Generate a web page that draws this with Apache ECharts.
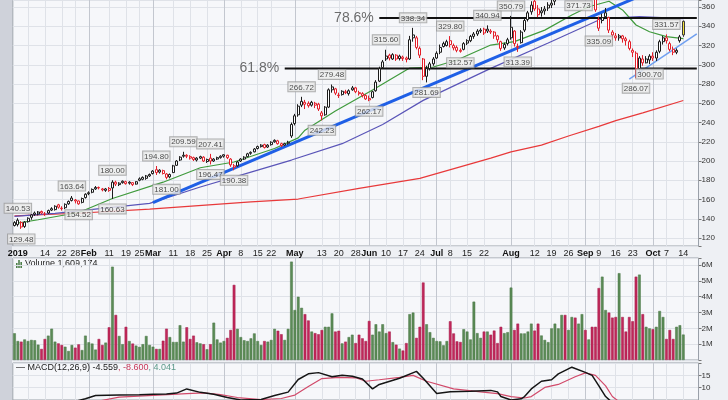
<!DOCTYPE html>
<html><head><meta charset="utf-8">
<script src="https://cdn.jsdelivr.net/npm/echarts@6/dist/echarts.min.js"></script>
<style>html,body{margin:0;padding:0;background:#eef0f4;}#chart{width:728px;height:400px;}</style>
</head><body><div id="chart"></div><script>
// ---------- DATA ----------
const tradingDays = [
 ['12',[31]],
 ['1',[2,3,4,7,8,9,10,11,14,15,16,17,18,22,23,24,25,28,29,30,31]],
 ['2',[1,4,5,6,7,8,11,12,13,14,15,19,20,21,22,25,26,27,28]],
 ['3',[1,4,5,6,7,8,11,12,13,14,15,18,19,20,21,22,25,26,27,28,29]],
 ['4',[1,2,3,4,5,8,9,10,11,12,15,16,17,18,22,23,24,25,26,29,30]],
 ['5',[1,2,3,6,7,8,9,10,13,14,15,16,17,20,21,22,23,24,28,29,30,31]],
 ['6',[3,4,5,6,7,10,11,12,13,14,17,18,19,20,21,24,25,26,27,28]],
 ['7',[1,2,3,5,8,9,10,11,12,15,16,17,18,19,22,23,24,25,26,29,30,31]],
 ['8',[1,2,5,6,7,8,9,12,13,14,15,16,19,20,21,22,23,26,27,28,29,30]],
 ['9',[3,4,5,6,9,10,11,12,13,16,17,18,19,20,23,24,25,26,27,30]],
 ['10',[1,2,3,4,7,8,9,10,11,14,15,16,17,18]]
];
const open = [133,
134,136,132,137,141.5,144.5,145,147.5,145,146,
149,149.5,154.5,151,151.5,155.5,159,159.5,158.5,157,
162,166,167.5,171,172.5,171,169.5,171.5,172,178,
175.5,177.5,178.5,177,177.5,176,180,181,182,184.5,
187,191,188.5,190,186.5,183.5,188,195.5,201,205,
206,204.5,203.5,201,203,204,199.5,203,200,202,
203.5,205,206,202,195,195,200,202,204.5,208,
209.5,213,215,217,214.5,217,220,221,218,216.5,
218.5,226,239,248,258,259,260,258,260,259,
250,248,256,274,275,268.5,269,272,270,274,
276,271,270,268,265,266,273,283,297,306,
310,306,310,306.5,308,307,306,328,328,317,
306,288,296,301,307,313,319,320,325,320,
318,315,316,322.5,325,329.5,332,335,337,335,
335,334,330,324,317.5,322,328,335,318,323,
336,347,355,366,358,354,356,359,362,366,
374,383,386,380,386,391,380,390,390,383,
386,372,338,346,350,349,334,330,328,330,
327,324,315,312,296,306,302,305,309,307,
314,324,328,322,316,313,325,331];
const close = [136,
138.5,131.5,136.5,140.5,144,146,147,146,144.5,148.5,
150.5,153,152,150.5,155,158,161.5,158.5,155.5,161,
165.5,167,170.5,172.5,172,170,171,169.5,178,176,
177,179,176.5,178,175.5,178.5,181.5,183,184.5,186,
189.5,188,190.5,187,183,186,195,200,204,206,
205,203,201.5,203,204.5,200,201.5,200,202,203.5,
205,206.5,203.5,196,193.5,199,202,204,207.5,209,
212.5,215,216.5,214,216.5,219.5,221.5,218,216,218,
219.5,238,247,257,262,261,257.5,261,258,254,
247,256,274,277,270.5,268,272.5,271,273,276,
272,270,268,264.5,263.5,272,282,296,303,309,
307,310.5,306,309,306.5,305.5,326,331,318,310,
288,296,301,306,312,318,322,324,321,317.5,
315,314,322,325,329.5,332,335,336,333,337,
334,330,326,317,321,326,339,322,319,334,
346,354,362,358,352,356,358,362,364,372,
382,386,378,385,392,388,388,392,382,386,
376,357,347,349,354,336,331,328,330,327,
325,317,313,296,307,302,306,309,307,313,
324,328,325,316,313,315,329,345.15];
const low = [132,
132,129.48,130.5,136,139,143,143.5,144.5,143,145,
148,148.5,150.5,148.5,150,154.5,158,156,154.52,156,
161,164.5,166.5,170,170.5,168.5,168,168,160.63,174,
174,176.5,175.5,175.5,174,175.5,179,180,180.5,183.5,
186,185.5,187,186,181,182,187.5,195,200,203.5,
203,201.5,200,199.5,202,199,198,196.47,199,201,
202.5,203.5,202,194,190.38,194,199,201,204,206.5,
209,212,214,213,213.5,216,219,217,214.5,215.5,
217,224,237,246,256,254,255.5,256.5,255,252,
242.23,247,255,271,268.5,265.5,268,269.5,268,273,
270.5,268,266,263.5,262.17,265,272,282,296,304,
304.5,305,304,304.5,304,302.5,305,324,316,307,
284,281.69,294,299,306,311,318,319,318,315,
313,312.57,315,320.5,323.5,327,330,333,331,333,
332,327,323,314.5,315.5,320,326,319,313.39,322,
334,345,352,356,349.5,350,352,356,359,362,
372,378,374,374,383,384,371.73,387,378,379,
372,355,335.09,343,348,333,326,325,325,323,
320,315,308,286.07,293,299,301.5,300.7,304,304,
312,321,322,314,310,311,323,329];
const high = [137.5,
140.53,137.5,137.5,141.5,145,147.5,148,148.5,147,149.5,
152,154,155.5,153,156,159,163.64,160.5,159,162,
166.5,168.5,171.5,174,173.5,172,172,173,180,179.5,
178,179.8,179.5,179,178,179,183,184,185.5,187,
190.5,194.8,191.5,191,187.5,187,196,201,205,209.59,
207,206,204.5,204,205.5,205,202.5,207.41,203,204.5,
206,207,206.5,203,197,200,203,205,208.5,210,
213.5,216,217.5,218,217.5,220.5,222.5,222,219,219,
221,240,249,259,266.72,263.5,262,262.5,261.5,260.5,
252,257,275.5,279.48,276,271,273.5,274,274.5,278,
277,273,271.5,269.5,268,273,284,298,305,315.6,
311.5,312,311,310.5,309.5,308.5,330,338.34,330,319,
307,299,303,308,314,321,324,326,329.8,322,
320,317,323.5,326.5,331,334,337,338,338.5,340.94,
337,335,331,325,323,328,350.79,336,322,336,
348,356,366,372,362,360,361,365,368,375,
385,390,389,388,395,394,392,396,393,389,
388,374,350,353,359,350,336,333,332,331,
329,326,317,314,309,310,309,311,313,315,
326,330,331.57,324,319,317,331,346];
// volume, millions of shares
const volume = [1.69,1.2,1.16,1.3,1.2,1.27,1.25,0.97,0.7,1.33,1.54,1.98,1.16,1.05,0.95,0.84,0.57,0.95,0.78,0.99,0.63,1.54,1.12,1.04,0.66,1.33,0.95,1.1,2.07,
5.9,2.85,
1.52,1.0,2.1,1.2,1.04,0.91,0.83,1.0,1.52,0.95,0.84,0.7,0.7,1.22,1.98,1.45,1.14,1.14,2.2,1.16,2.07,1.33,1.54,1.12,1.05,1.0,0.68,1.0,2.36,1.3,1.1,1.2,1.4,1.9,
4.75,
1.97,1.45,1.25,1.2,1.37,1.68,1.2,0.95,1.2,1.16,1.27,1.97,1.85,1.63,1.27,1.97,
6.22,
3.16,4.0,3.3,2.9,2.5,1.8,1.7,1.63,1.9,2.1,2.1,2.95,1.8,1.85,1.05,1.16,1.45,1.6,1.07,1.6,1.37,
1.2,2.47,1.6,2.26,1.8,2.26,1.7,1.8,1.13,0.97,
0.72,0.6,1.07,2.9,3.0,1.4,2.1,4.9,2.26,1.76,
1.4,1.2,1.18,0.93,1.2,2.45,1.68,1.18,1.14,1.95,
1.8,1.3,3.69,1.7,1.4,1.8,1.8,1.6,1.86,1.07,
2.1,1.7,1.76,4.58,1.9,2.3,1.68,1.68,1.8,2.3,
1.86,2.3,1.55,1.27,1.13,2.0,2.3,2.0,2.85,2.85,
1.9,2.72,2.68,2.3,2.9,1.9,1.3,2.1,2.1,4.55,
5.27,3.16,3.0,2.68,2.72,5.49,2.72,1.8,2.72,2.45,
5.27,5.4,2.9,2.1,2.0,1.95,2.1,3.1,2.72,1.33,
1.9,1.33,2.1,2.2,1.609174];
// moving averages: [date, value]
const maGreen = [['12/31',135],['1/10',139],['1/29',146.5],['2/12',161],['3/6',178],['3/21',193],['4/4',199],['4/23',213],['5/2',224],['5/6',232],['5/17',252],['6/4',273.8],['6/19',296.6],['6/28',297.7],['7/10',305],['7/24',320.5],['8/2',324],['8/15',336],['8/27',351.7],['9/4',360.3],['9/12',366],['9/18',357],['9/24',341.3],['9/30',334.3],['10/7',329.2],['10/14',327.09]];
const maPurple = [['12/31',142.5],['1/17',145.5],['2/28',156],['3/21',173],['4/11',188.5],['4/30',201],['5/21',218],['6/7',238],['6/25',263],['7/24',296.3],['8/16',322.6],['9/10',348],['9/25',350],['10/14',348]];
const maRed = [['12/31',143],['1/30',146],['2/28',150],['4/11',157.5],['5/2',160.5],['5/29',171.5],['6/24',182],['7/24',203],['8/1',209.5],['8/14',216.5],['8/26',226],['9/9',236],['9/16',242],['9/26',250],['10/14',262.92]];
const trendMain = [['3/1',156.8],['10/1',377.1]];
const trendRecent = [['9/20',285],['10/18',332.2]];
const fibLevels = [{text:'78.6%', from:'6/6', value:348.5},{text:'61.8%', from:'4/26', value:296.2}];
const highLabels = [['1/2',140.53],['1/25',163.64],['2/12',180.00],['3/4',194.80],['3/14',209.59],['3/26',207.41],['5/3',266.72],['5/16',279.48],['6/10',315.60],['6/20',338.34],['7/8',329.80],['7/23',340.94],['8/1',350.79],['10/7',331.57]];
const lowLabels = [['1/3',129.48],['1/29',154.52],['2/12',160.63],['3/7',181.00],['3/26',196.47],['4/4',190.38],['5/13',242.23],['6/3',262.17],['6/26',281.69],['7/11',312.57],['8/5',313.39],['8/29',371.73],['9/9',335.09],['9/24',286.07],['9/30',300.70]];
const macdLine = [['1/2',-2],['1/16',2],['1/31',5.5],['2/5',6.8],['2/14',7],['2/25',7.1],['3/1',7.3],['3/7',7.4],['3/12',7.8],['3/15',9.5],['3/21',8.1],['3/27',7.3],['4/2',6],['4/8',5],['4/16',5.2],['4/23',6.8],['4/29',8.2],['5/2',13.3],['5/7',15.6],['5/10',16.1],['5/16',14.4],['5/21',15],['5/24',14.6],['5/30',13.5],['6/4',9.5],['6/6',11.3],['6/14',13.8],['6/21',16.6],['6/25',13.8],['7/1',7.6],['7/8',8.3],['7/16',8.5],['7/24',8.9],['7/26',8.3],['7/29',6.4],['8/1',5],['8/6',5.5],['8/7',6.4],['8/9',9.5],['8/14',12.6],['8/19',13.2],['8/21',15.6],['8/27',18.3],['9/3',16.2],['9/5',15],['9/9',10.7],['9/11',6.4],['9/19',-1],['9/26',-6],['10/3',-7],['10/14',-4.559]];
const signalLine = [['1/2',-3],['1/16',0],['1/31',3.5],['2/14',6.2],['3/1',6.9],['3/15',7.6],['3/22',7.9],['3/29',7.2],['4/5',6],['4/16',5.2],['4/25',5.6],['5/1',7],['5/7',10.5],['5/13',13.7],['5/20',14.2],['5/28',14],['5/31',12.6],['6/6',13.2],['6/14',14.2],['6/20',15],['6/26',12.6],['7/9',9.5],['7/19',8.3],['7/26',7.6],['8/1',6.4],['8/7',5.8],['8/9',6.4],['8/15',10.1],['8/21',11.3],['8/28',14.4],['9/3',16],['9/6',15],['9/11',10.7],['9/13',6.4],['9/26',-3],['10/14',-8.6]];
const tickLabels = {'1/2':'2019','1/14':'14','1/22':'22','1/28':'28','2/1':'Feb','2/11':'11','2/19':'19','2/25':'25','3/1':'Mar','3/11':'11','3/18':'18','3/25':'25','4/1':'Apr','4/8':'8','4/15':'15','4/22':'22','5/1':'May','5/13':'13','5/20':'20','5/28':'28','6/3':'Jun','6/10':'10','6/17':'17','6/24':'24','7/1':'Jul','7/8':'8','7/15':'15','7/22':'22','8/1':'Aug','8/12':'12','8/19':'19','8/26':'26','9/3':'Sep','9/9':'9','9/16':'16','9/23':'23','10/1':'Oct','10/7':'7','10/14':'14'};
const weekLineDates = ['1/7','1/14','1/22','1/28','2/11','2/19','2/25','3/11','3/18','3/25','4/8','4/15','4/22','5/13','5/20','5/28','6/10','6/17','6/24','7/8','7/15','7/22','8/12','8/19','8/26','9/9','9/16','9/23','10/7','10/14'];
const monthLineDates = ['2/1','3/1','4/1','5/1','6/3','7/1','8/1','9/3','10/1'];
const lastClose = 345.15, lastGreen = 327.09, lastRed = 262.92, lastVolume = 1609174;

// ---------- BUILD ----------
const FONT = 'Liberation Sans, Arial, sans-serif';
const dates = [];
tradingDays.forEach(([m, ds]) => ds.forEach(d => dates.push(m + '/' + d)));
const isUp = i => i === 0 || close[i] >= close[i - 1];
const candleData = open.map((o, i) => {
  const last = i === open.length - 1;
  const col = isUp(i) ? '#1b1b1b' : '#e31f2a';
  return {value: [o, close[i], low[i], high[i]],
    itemStyle: last ? {color:'#f3e23c', color0:'#f3e23c', borderColor:'#3a3a3a', borderColor0:'#3a3a3a'}
                    : {color:'#ffffff', color0: col, borderColor: col, borderColor0: col}};
});
const volData = volume.map((v, i) => ({value: v, itemStyle: {color: isUp(i) ? '#5b8b56' : '#c1275a', borderColor: isUp(i) ? '#4a7646' : '#a41e4b', borderWidth: 0.5}}));
const weekSet = new Set(weekLineDates), monthSet = new Set(monthLineDates);
const boldSet = new Set(['2019','Feb','Mar','Apr','May','Jun','Jul','Aug','Sep','Oct']);

function xa(grid, set, color, labels) {
  return {type:'category', gridIndex: grid, data: dates, boundaryGap: true,
    axisLine:{show:false}, axisTick:{show:false},
    axisLabel: labels ? {show:true, interval:(i, v) => !!tickLabels[v], margin: 3, fontSize: 9, color:'#222', fontFamily: FONT,
      formatter: v => { const t = tickLabels[v]; if (!t) return ''; return boldSet.has(t) ? '{b|' + t + '}' : t; },
      rich: {b: {fontWeight:'bold', fontSize: 9, color:'#111', fontFamily: FONT}}} : {show:false},
    splitLine:{show:true, alignWithLabel:true, interval:(i, v) => set.has(v), lineStyle:{color: color, width: 1}}};
}
const tag = (text, border, bold) => ({show:true, position:'end', distance: 2, formatter: text, backgroundColor:'#ffffff',
  borderColor: border, borderWidth: 1, borderRadius: 2, padding:[1,2,0,2], fontSize: 9, fontWeight: bold ? 'bold' : 'normal', color:'#111', fontFamily: FONT});
const hLine = (val, label) => ({symbol:['none','none'], silent:true, animation:false, lineStyle:{opacity:0}, label: label, data:[{yAxis: val}]});
const annLabel = (pos) => ({show:true, position: pos, distance: 5, formatter: p => p.value[1].toFixed(2), fontSize: 8, color:'#222', fontFamily: FONT,
  backgroundColor:'#ececec', borderColor:'#9b9b9b', borderWidth: 1, padding:[1,1,0,1]});

const option = {
  animation: false,
  backgroundColor: '#eef0f4',
  grid: [
    {left: 12.8, right: 29.5, top: 0, height: 246, show: true, backgroundColor:'#f6f7fa', borderColor:'#9aa0a9', borderWidth: 1},
    {left: 12.8, right: 29.5, top: 258, height: 102, show: true, backgroundColor:'#f6f7fa', borderColor:'#9aa0a9', borderWidth: 1},
    {left: 12.8, right: 29.5, top: 363, height: 40.8, show: true, backgroundColor:'#f6f7fa', borderColor:'#9aa0a9', borderWidth: 1}
  ],
  xAxis: [xa(0, weekSet, '#dfe2e8', true), xa(0, monthSet, '#c3c7cf', false),
          xa(1, weekSet, '#dfe2e8', false), xa(1, monthSet, '#c3c7cf', false),
          xa(2, weekSet, '#dfe2e8', false), xa(2, monthSet, '#c3c7cf', false)],
  yAxis: [
    {type:'value', gridIndex:0, position:'right', min:111.7, max:367.3, splitNumber:13,
     axisLine:{show:false}, axisTick:{show:true, length:3, lineStyle:{color:'#777'}},
     axisLabel:{fontSize:8, color:'#333', margin:3, fontFamily:FONT, formatter: v => (Math.abs(v % 20) < 1e-6 ? String(v) : '')},
     splitLine:{lineStyle:{color:'#dfe2e8'}}},
    {type:'value', gridIndex:1, position:'right', min:0, max:6.45, interval:1,
     axisLine:{show:false}, axisTick:{show:true, length:3, lineStyle:{color:'#777'}},
     axisLabel:{fontSize:8, color:'#333', margin:3, fontFamily:FONT, formatter: v => (v >= 1 && v <= 6 && Number.isInteger(v) ? v + 'M' : '')},
     splitLine:{lineStyle:{color:'#dfe2e8'}}},
    {type:'value', gridIndex:2, position:'right', min:5, max:20, interval:5,
     axisLine:{show:false}, axisTick:{show:true, length:3, lineStyle:{color:'#777'}},
     axisLabel:{fontSize:8, color:'#333', margin:3, fontFamily:FONT, formatter: v => (v === 10 || v === 15 ? String(v) : '')},
     splitLine:{lineStyle:{color:'#dfe2e8'}}}
  ],
  series: [
    {type:'line', name:'MA red', xAxisIndex:0, yAxisIndex:0, data: maRed, showSymbol:false, symbol:'none', lineStyle:{color:'#e8393a', width:1.2}, z:2,
     markLine: hLine(lastRed, tag(lastRed.toFixed(2), '#e8393a', false))},
    {type:'line', name:'MA purple', xAxisIndex:0, yAxisIndex:0, data: maPurple, showSymbol:false, symbol:'none', lineStyle:{color:'#5a55b8', width:1.2}, z:2},
    {type:'line', name:'MA green', xAxisIndex:0, yAxisIndex:0, data: maGreen, showSymbol:false, symbol:'none', lineStyle:{color:'#3f9a3c', width:1.2}, z:2,
     markLine: hLine(lastGreen, tag(lastGreen.toFixed(2), '#3f9a3c', false))},
    {type:'line', name:'trend', xAxisIndex:0, yAxisIndex:0, data: trendMain, showSymbol:false, symbol:'none', lineStyle:{color:'#1f5fe6', width:3}, z:3},
    {type:'line', name:'trend2', xAxisIndex:0, yAxisIndex:0, data: trendRecent, showSymbol:false, symbol:'none', lineStyle:{color:'#6f9ff0', width:1.5}, z:3},
    ...fibLevels.map(f => ({type:'line', xAxisIndex:0, yAxisIndex:0, data:[[f.from, f.value], ['10/18', f.value]], showSymbol:false, symbol:'none', lineStyle:{color:'#111', width:2}, z:3})),
    {type:'scatter', xAxisIndex:0, yAxisIndex:0, data: fibLevels.map(f => [f.from, f.value]), symbolSize:1, itemStyle:{color:'rgba(0,0,0,0)'}, z:4,
     label:{show:true, position:'left', distance:5, formatter: p => fibLevels[p.dataIndex].text, fontSize:14, color:'#4a4a4a', fontFamily:FONT}},
    {type:'candlestick', xAxisIndex:0, yAxisIndex:0, data: candleData, barWidth:'74%', z:5,
     markLine: hLine(lastClose, tag(lastClose.toFixed(2), '#111', true))},
    {type:'scatter', xAxisIndex:0, yAxisIndex:0, data: highLabels, symbolSize:1, itemStyle:{color:'rgba(0,0,0,0)'}, z:6, clip:false, label: annLabel('top')},
    {type:'scatter', xAxisIndex:0, yAxisIndex:0, data: lowLabels, symbolSize:1, itemStyle:{color:'rgba(0,0,0,0)'}, z:6, clip:false, label: annLabel('bottom')},
    {type:'bar', xAxisIndex:2, yAxisIndex:1, data: volData, barWidth:'80%',
     markLine: hLine(lastVolume / 1e6, tag(String(lastVolume), '#333', false))},
    {type:'line', xAxisIndex:4, yAxisIndex:2, data: signalLine, showSymbol:false, symbol:'none', lineStyle:{color:'#d14a6a', width:1.2}},
    {type:'line', xAxisIndex:4, yAxisIndex:2, data: macdLine, showSymbol:false, symbol:'none', lineStyle:{color:'#151515', width:1.5}}
  ],
  graphic: [
    {type:'rect', left:0, top:0, shape:{width:12, height:400}, style:{fill:'#cfd2da'}, silent:true},
    {type:'group', left:16, top:259, z:10, children:[
      {type:'rect', shape:{x:0, y:3, width:1.6, height:5}, style:{fill:'#4f7f4b'}},
      {type:'rect', shape:{x:2.2, y:0, width:1.6, height:8}, style:{fill:'#4f7f4b'}},
      {type:'rect', shape:{x:4.4, y:2, width:1.6, height:6}, style:{fill:'#4f7f4b'}},
      {type:'text', x:9, y:-1, style:{text:'Volume 1,609,174', fontSize:9, fontFamily:FONT, fill:'#222'}}
    ]},
    {type:'text', left:16, top:363, z:10, style:{text:'{k|— MACD(12,26,9) -4.559}{r|, -8.600}{g|, 4.041}', fontSize:9, fontFamily:FONT,
      rich:{k:{fill:'#222', fontSize:9, fontFamily:FONT}, r:{fill:'#c8385a', fontSize:9, fontFamily:FONT}, g:{fill:'#5c9a8a', fontSize:9, fontFamily:FONT}}}}
  ]
};
const chart = echarts.init(document.getElementById('chart'), null, {renderer:'canvas'});
chart.setOption(option);
</script></body></html>
